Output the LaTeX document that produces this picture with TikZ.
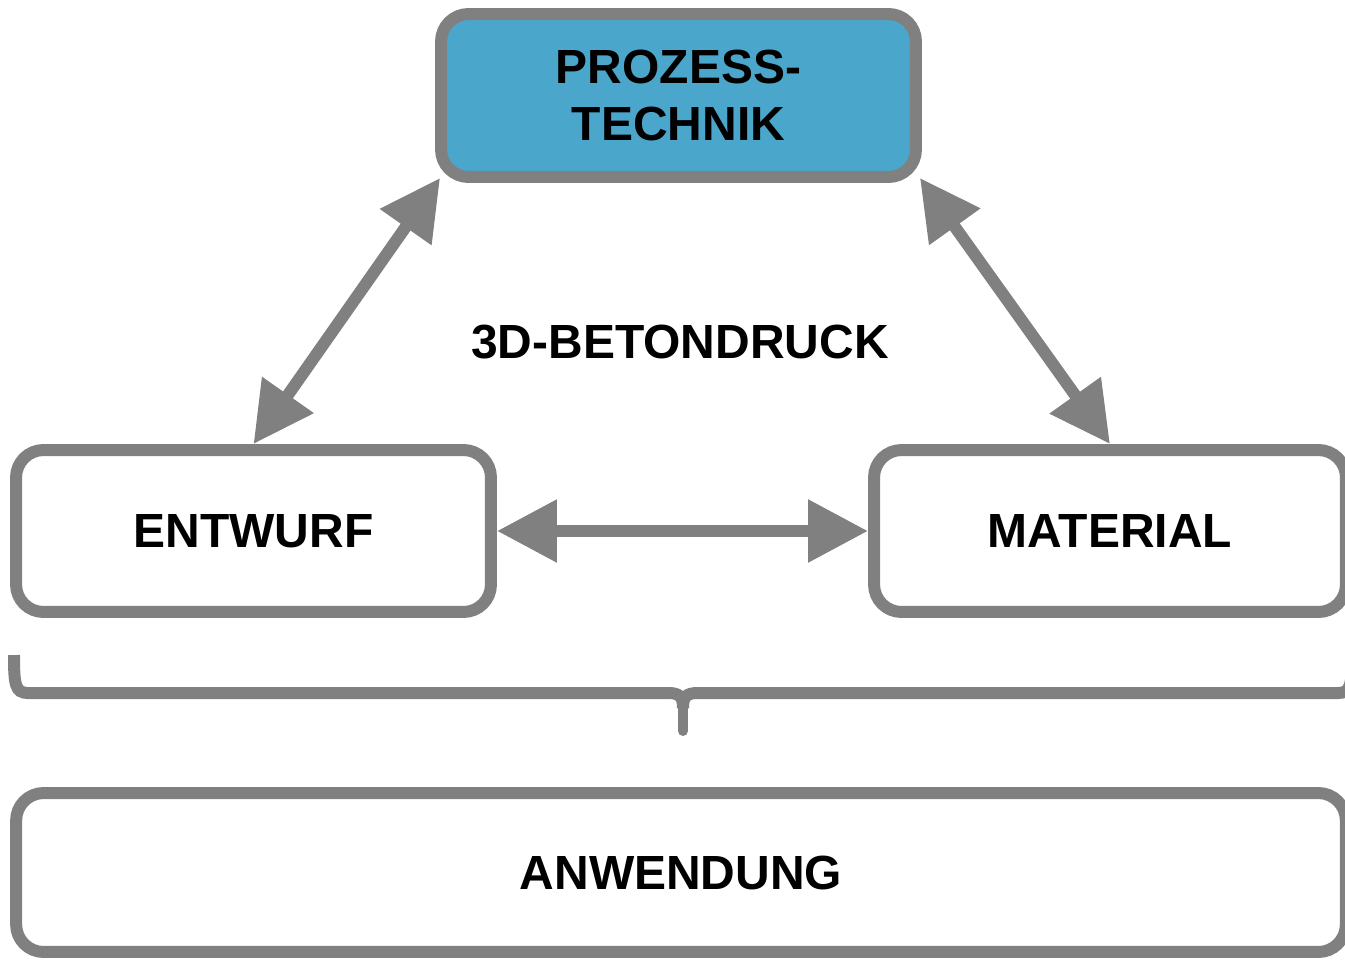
\documentclass[tikz,border=0pt]{standalone}
\usepackage{fontspec}
\setmainfont{Liberation Sans}
\usetikzlibrary{arrows.meta}

\definecolor{rahmengrau}{RGB}{128,128,128}
\definecolor{prozessblau}{RGB}{75,166,204}

\begin{document}
\begin{tikzpicture}[
    x=0.02cm, y=-0.02cm,
    feld/.style={rectangle, draw=rahmengrau, line width=0.24cm, rounded corners=0.55cm, fill=white, align=center, minimum width=9.5cm, minimum height=3.24cm, font=\fontsize{27.3}{31.9}\selectfont\bfseries},
    pfeil/.style={draw=rahmengrau, fill=rahmengrau, line width=0.24cm, {Triangle[length=1.2cm, width=1.2cm]}-{Triangle[length=1.2cm, width=1.2cm]}}
]
\useasboundingbox (0,0) rectangle (1345,960);

% Prozesstechnik
\node[feld, fill=prozessblau, minimum height=3.26cm] (prozess) at (678.5,95.5) {PROZESS-\\TECHNIK};

% Entwurf und Material
\node[feld] (entwurf) at (253.5,531) {ENTWURF};
\node[feld, minimum width=9.44cm] (material) at (1110,531) {MATERIAL};
\node[font=\fontsize{27.3}{31.9}\selectfont\bfseries] (druck) at (680,342) {3D-BETONDRUCK};

% Pfeile
\draw[pfeil] (entwurf.north) -- ([shift={(5,-5)}]prozess.south west);
\draw[pfeil] (material.north) -- ([shift={(-2,-5)}]prozess.south east);
\draw[pfeil] (entwurf.east) -- (material.west);

% Klammer
\draw[rahmengrau, line width=0.24cm] (14,655) .. controls (14,684) and (15,693) .. (28,693)
    -- (668,693) .. controls (680,693) and (683,697) .. (683,708)
    .. controls (683,697) and (686,693) .. (698,693) -- (1338,693)
    .. controls (1351,693) and (1352,684) .. (1352,655);
\draw[rahmengrau, line width=0.2cm, line cap=round] (683,700) -- (683,731);

% Anwendung
\node[feld, minimum width=26.6cm, minimum height=3.18cm] (anwendung) at (681,872.5) {ANWENDUNG};

\end{tikzpicture}
\end{document}
